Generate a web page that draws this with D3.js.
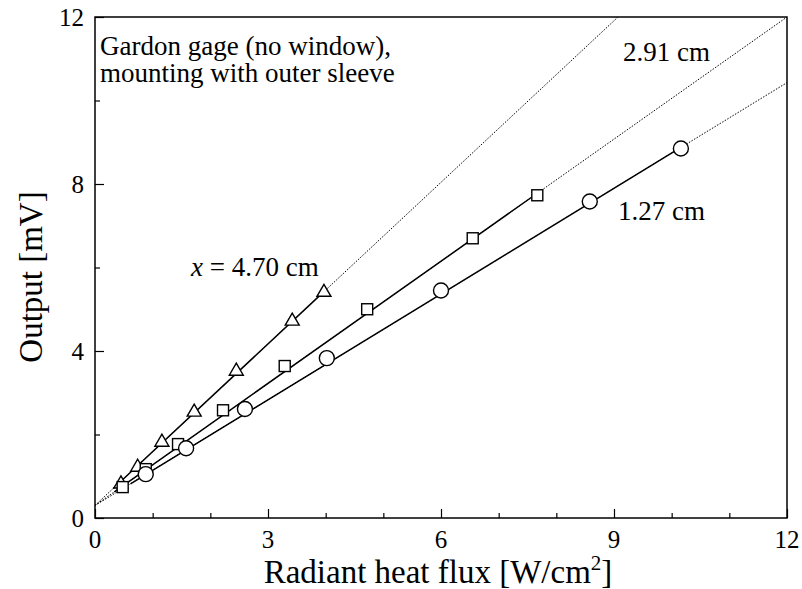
<!DOCTYPE html>
<html><head><meta charset="utf-8">
<script src="https://cdn.jsdelivr.net/npm/d3@7"></script>
<style>body{margin:0;background:#fff}svg{display:block}text{font-family:"Liberation Serif","Times New Roman",serif;fill:#000}</style>
</head><body><svg id="c" width="802" height="589"></svg>
<script>
const xTicksMajor = [0, 3, 6, 9, 12];
const xTicksMinor = [1, 2, 4, 5, 7, 8, 10, 11];
const yTicksMajor = [0, 4, 8, 12];
const yTicksMinor = [2, 6, 10];

const tri_x = [0.45, 0.74, 1.16, 1.72, 2.45, 3.42, 3.97];
const tri_y = [0.84, 1.24, 1.84, 2.56, 3.54, 4.74, 5.43];
const sq_x = [0.48, 0.88, 1.44, 2.22, 3.29, 4.72, 6.55, 7.67];
const sq_y = [0.74, 1.17, 1.77, 2.58, 3.64, 5.0, 6.70, 7.73];
const ci_x = [0.88, 1.58, 2.60, 4.02, 6.0, 8.58, 10.16];
const ci_y = [1.05, 1.67, 2.61, 3.83, 5.45, 7.58, 8.85];

// fitted lines: intercept, slope
const fitIntercept = [0.3, 0.3, 0.3];
const fitSlope = [1.29, 0.975, 0.844];
const seriesNames = ["4.70 cm", "2.91 cm", "1.27 cm"];

const FONT = "Liberation Serif, Times New Roman, serif";
const svg = d3.select("#c");
const L = 95, R = 787, T = 17, B = 518;
const x = d3.scaleLinear().domain([0, 12]).range([L, R]);
const y = d3.scaleLinear().domain([0, 12]).range([B, T]);

const defs = svg.append("defs");
defs.append("clipPath").attr("id", "clip").append("rect")
  .attr("x", L).attr("y", T).attr("width", R - L).attr("height", B - T);

// axes (inward ticks)
const gx = svg.append("g").attr("transform", `translate(0,${B})`);
gx.call(d3.axisTop(x).tickValues(xTicksMajor).tickSize(9).tickFormat(""));
gx.append("g").call(d3.axisTop(x).tickValues(xTicksMinor).tickSize(5).tickFormat(""));
gx.selectAll(".domain").remove();
gx.selectAll("line").attr("stroke", "#000").attr("stroke-width", 1.2);
svg.selectAll(".xlbl").data(xTicksMajor).enter().append("text")
  .attr("x", d => x(d)).attr("y", 548).attr("text-anchor", "middle")
  .attr("font-family", FONT).attr("font-size", 25).text(d => d);

const gy = svg.append("g").attr("transform", `translate(${L},0)`);
gy.call(d3.axisRight(y).tickValues(yTicksMajor).tickSize(9).tickFormat(""));
gy.append("g").call(d3.axisRight(y).tickValues(yTicksMinor).tickSize(5).tickFormat(""));
gy.selectAll(".domain").remove();
gy.selectAll("line").attr("stroke", "#000").attr("stroke-width", 1.2);
svg.selectAll(".ylbl").data(yTicksMajor).enter().append("text")
  .attr("x", 84).attr("y", d => y(d) + 9).attr("text-anchor", "end")
  .attr("font-family", FONT).attr("font-size", 25).text(d => d);

// frame
svg.append("rect").attr("x", L).attr("y", T).attr("width", R - L).attr("height", B - T)
  .attr("fill", "none").attr("stroke", "#000").attr("stroke-width", 1.5);

// axis titles
const xt = svg.append("text").attr("x", 438).attr("y", 583).attr("text-anchor", "middle")
  .attr("font-family", FONT).attr("font-size", 33);
xt.append("tspan").text("Radiant heat flux [W/cm");
xt.append("tspan").attr("dy", -13).attr("font-size", 21).text("2");
xt.append("tspan").attr("dy", 13).text("]");
svg.append("text").attr("transform", "translate(42,277) rotate(-90)").attr("text-anchor", "middle")
  .attr("font-family", FONT).attr("font-size", 33).text("Output [mV]");

// lines
const plot = svg.append("g").attr("clip-path", "url(#clip)");
const xsets = [tri_x, sq_x, ci_x];
const line = d3.line().x(d => x(d[0])).y(d => y(d[1]));
xsets.forEach((xs, i) => {
  const f = v => fitIntercept[i] + fitSlope[i] * v;
  const xEnd = Math.min(12, (12 - fitIntercept[i]) / fitSlope[i]);
  plot.append("path").attr("d", line([[0, f(0)], [xEnd, f(xEnd)]]))
    .attr("fill", "none").attr("stroke", "#000").attr("stroke-width", 1).attr("stroke-dasharray", "1.5,1.5");
  const x0 = d3.min(xs), x1 = d3.max(xs);
  plot.append("path").attr("d", line([[x0 * 0.7, f(x0 * 0.7)], [x1, f(x1)]]))
    .attr("fill", "none").attr("stroke", "#000").attr("stroke-width", 1.5);
});

// markers
const mk = svg.append("g").attr("fill", "#fff").attr("stroke", "#000").attr("stroke-width", 1.4);
tri_x.forEach((v, i) => {
  const cx = x(v), cy = y(tri_y[i]);
  mk.append("path").attr("d", `M${cx},${cy - 7}L${cx + 7},${cy + 5}L${cx - 7},${cy + 5}Z`);
});
sq_x.forEach((v, i) => {
  mk.append("rect").attr("x", x(v) - 5.5).attr("y", y(sq_y[i]) - 5.5).attr("width", 11).attr("height", 11);
});
ci_x.forEach((v, i) => {
  mk.append("circle").attr("cx", x(v)).attr("cy", y(ci_y[i])).attr("r", 7.5);
});

// annotations
svg.append("text").attr("x", 100).attr("y", 55).attr("font-family", FONT).attr("font-size", 27).text("Gardon gage (no window),");
svg.append("text").attr("x", 100).attr("y", 82).attr("font-family", FONT).attr("font-size", 27).text("mounting with outer sleeve");
svg.append("text").attr("x", 623).attr("y", 61).attr("font-family", FONT).attr("font-size", 27).text(seriesNames[1]);
svg.append("text").attr("x", 618).attr("y", 220).attr("font-family", FONT).attr("font-size", 27).text(seriesNames[2]);
const lab = svg.append("text").attr("x", 191).attr("y", 276).attr("font-family", FONT).attr("font-size", 27);
lab.append("tspan").attr("font-style", "italic").text("x");
lab.append("tspan").text(" = " + seriesNames[0]);
</script></body></html>
